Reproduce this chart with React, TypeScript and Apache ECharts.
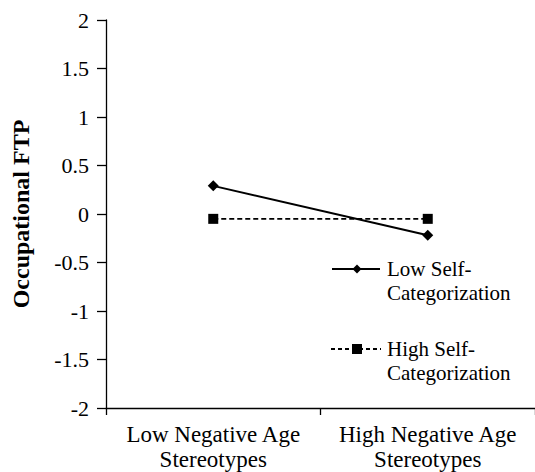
import React, { useEffect, useRef } from "react";
import * as echarts from "echarts";

const categories = ["Low Negative Age\nStereotypes", "High Negative Age\nStereotypes"];
const lowSelfCat = [0.29, -0.22];
const highSelfCat = [-0.05, -0.05];
const seriesNames = ["Low Self-\nCategorization", "High Self-\nCategorization"];
const yAxisName = "Occupational FTP";

const FONT = "Liberation Serif";

export default function App() {
  const ref = useRef<HTMLDivElement>(null);
  useEffect(() => {
    if (!ref.current) return;
    const chart = echarts.init(ref.current, undefined, { renderer: "svg" });
    chart.setOption({
      animation: false,
      backgroundColor: "#fff",
      textStyle: { fontFamily: FONT },
      grid: { left: 106, right: -7, top: 20, bottom: 64, containLabel: false },
      xAxis: {
        type: "category",
        data: categories,
        boundaryGap: true,
        axisLine: { show: true, onZero: false, lineStyle: { color: "#000", width: 1.3 } },
        axisTick: { show: true, interval: 0, length: 7, lineStyle: { color: "#000", width: 1.3 } },
        axisLabel: {
          interval: 0,
          margin: 14,
          fontFamily: FONT,
          fontSize: 23,
          lineHeight: 25,
          color: "#000",
        },
        splitLine: { show: false },
      },
      yAxis: {
        type: "value",
        min: -2,
        max: 2,
        interval: 0.5,
        name: yAxisName,
        nameLocation: "middle",
        nameGap: 73,
        nameTextStyle: { fontFamily: FONT, fontSize: 24, fontWeight: "bold", color: "#000" },
        axisLine: { show: true, lineStyle: { color: "#000", width: 1.3 } },
        axisTick: { show: true, length: 9, lineStyle: { color: "#000", width: 1.3 } },
        axisLabel: {
          margin: 17,
          fontFamily: FONT,
          fontSize: 22,
          color: "#000",
          formatter: (v: number) => String(v),
        },
        splitLine: { show: false },
      },
      series: [
        {
          name: seriesNames[0],
          type: "line",
          data: lowSelfCat,
          symbol: "diamond",
          symbolSize: 11,
          lineStyle: { color: "#000", width: 2, type: "solid" },
          itemStyle: { color: "#000" },
        },
        {
          name: seriesNames[1],
          type: "line",
          data: highSelfCat,
          symbol: "rect",
          symbolSize: 10,
          lineStyle: { color: "#000", width: 1.8, type: [5, 3] },
          itemStyle: { color: "#000" },
        },
      ],
      graphic: [
        {
          type: "line",
          shape: { x1: 332, y1: 269, x2: 380, y2: 269 },
          style: { stroke: "#000", lineWidth: 1.8 },
        },
        {
          type: "polygon",
          shape: { points: [[357, 264.5], [361.5, 269], [357, 273.5], [352.5, 269]] },
          style: { fill: "#000" },
        },
        {
          type: "text",
          x: 387,
          y: 257,
          style: {
            text: seriesNames[0],
            fontFamily: FONT,
            fontSize: 21,
            lineHeight: 24,
            fill: "#000",
            verticalAlign: "top",
          },
        },
        {
          type: "line",
          shape: { x1: 331, y1: 349, x2: 381, y2: 349 },
          style: { stroke: "#000", lineWidth: 1.8, lineDash: [4, 3] },
        },
        {
          type: "rect",
          shape: { x: 352, y: 344, width: 10, height: 10 },
          style: { fill: "#000" },
        },
        {
          type: "text",
          x: 387,
          y: 337,
          style: {
            text: seriesNames[1],
            fontFamily: FONT,
            fontSize: 21,
            lineHeight: 24,
            fill: "#000",
            verticalAlign: "top",
          },
        },
      ],
    });
    return () => chart.dispose();
  }, []);
  return <div ref={ref} style={{ width: 535, height: 472, position: "absolute", left: 0, top: 0 }} />;
}
